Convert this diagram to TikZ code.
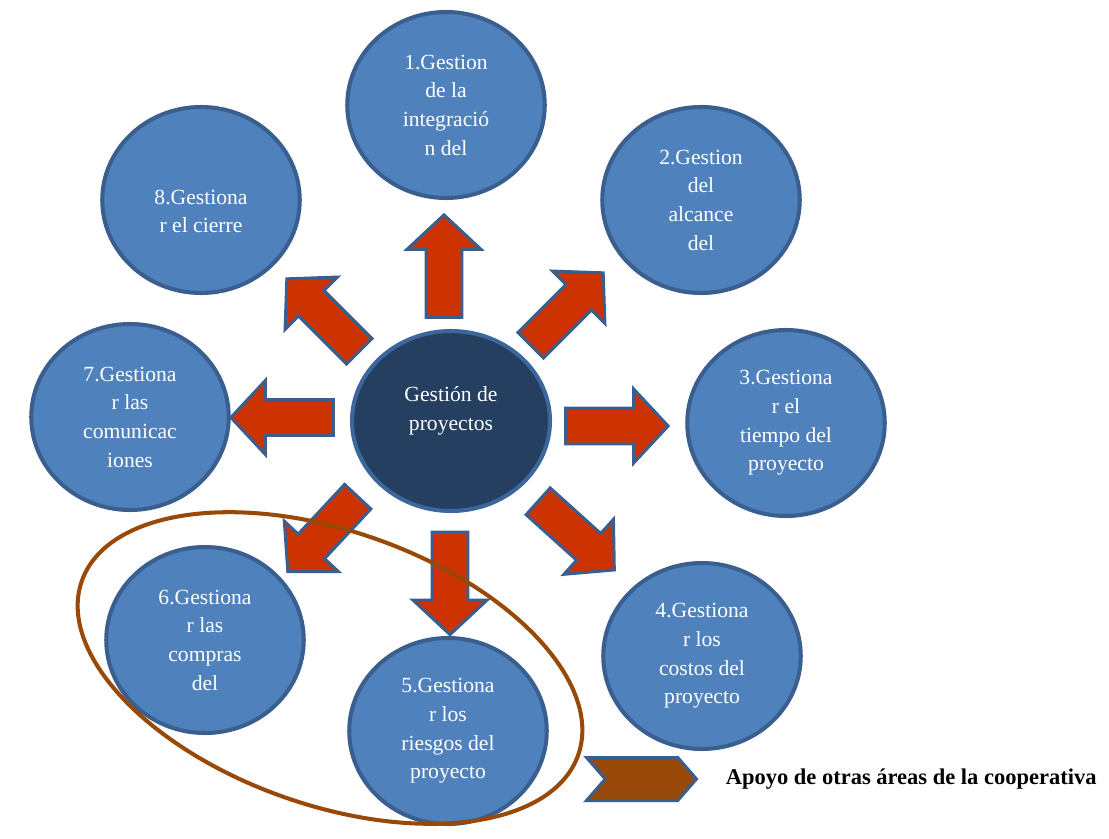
\documentclass[tikz,border=0pt]{standalone}
\usepackage{fontspec}
\setmainfont{Liberation Serif}
\usepackage{xcolor}
\usepackage{tikz}
\usetikzlibrary{positioning, shapes.geometric, shapes.arrows, shapes.symbols}

\definecolor{azul}{HTML}{4F81BD}
\definecolor{azulborde}{HTML}{3A5F8F}
\definecolor{azuloscuro}{HTML}{243F60}
\definecolor{azulmedio}{HTML}{3C679D}
\definecolor{rojo}{HTML}{CC3300}
\definecolor{cafe}{HTML}{984807}

\begin{document}
\begin{tikzpicture}[
    texto/.style={text=white, align=center, font=\fontsize{12.3}{16.3}\selectfont},
    gestion/.style={draw=azulborde, fill=azul, ellipse, line width=2.3pt, inner sep=0pt,
        minimum width=3.95cm, minimum height=3.72cm, texto},
    flecha/.style={draw=azulborde, fill=rojo, single arrow, line width=1.7pt,
        inner xsep=0pt, inner ysep=0.33cm,
        minimum height=2.05cm, minimum width=1.42cm, single arrow head extend=0.38cm,
        single arrow tip angle=94}
    ]

    \useasboundingbox (0,0) rectangle (22.18,-16.78);

    % Central node
    \node[gestion, fill=azuloscuro, draw=azulmedio, minimum width=3.96cm, minimum height=3.6cm,
        label={[texto, yshift=0.2cm]center:{Gestión de\\proyectos}}] (centro) at (9.02,-8.42) {};

    % Outer nodes
    \node[gestion] (g1) at (8.92,-2.10) {1.Gestion\\de la\\integració\\n del};
    \node[gestion] (g2) at (14.02,-4.00) {2.Gestion\\del\\alcance\\del};
    \node[gestion] (g3) at (15.72,-8.46) {3.Gestiona\\r el\\tiempo del\\proyecto};
    \node[gestion] (g4) at (14.04,-13.12) {4.Gestiona\\r los\\costos del\\proyecto};
    \node[gestion] (g5) at (8.96,-14.62) {5.Gestiona\\r los\\riesgos del\\proyecto};
    \node[gestion] (g6) at (4.10,-12.80) {6.Gestiona\\r las\\compras\\del};
    \node[gestion] (g7) at (2.60,-8.34) {7.Gestiona\\r las\\comunicac\\iones};
    \node[gestion, label={[texto, yshift=-0.23cm]center:{8.Gestiona\\r el cierre}}] (g8) at (4.02,-4.00) {};

    % Arrows: centre to outer nodes
    \node[flecha, rotate=90] (f1) at (8.88,-5.49) {};
    \node[flecha, rotate=45] (f2) at (11.22,-6.30) {};
    \node[flecha, rotate=0] (f3) at (12.17,-8.52) {};
    \node[flecha, rotate=-42] (f4) at (11.40,-10.60) {};
    \node[flecha, rotate=-90] (f5) at (9.00,-11.50) {};
    \node[flecha, rotate=-133] (f6) at (6.57,-10.56) {};
    \node[flecha, rotate=180] (f7) at (5.81,-8.35) {};
    \node[flecha, rotate=135] (f8) at (6.58,-6.42) {};

    % Support group
    \node[draw=cafe, ellipse, line width=2.3pt, minimum width=10.52cm, minimum height=5.48cm,
        rotate=-19.3] (apoyo) at (6.60,-13.36) {};

    % Legend
    \node[signal, signal from=west, signal to=east, signal pointer angle=98, draw=azulborde,
        fill=cafe, line width=1.7pt, minimum width=2.2cm, minimum height=0.86cm, inner sep=0pt] (leyenda) at (12.83,-15.58) {};
    \node[right=0.54cm of leyenda, inner sep=0pt, font=\bfseries\fontsize{12.8}{15}\selectfont] (textoapoyo) {Apoyo de otras áreas de la cooperativa};

\end{tikzpicture}
\end{document}
